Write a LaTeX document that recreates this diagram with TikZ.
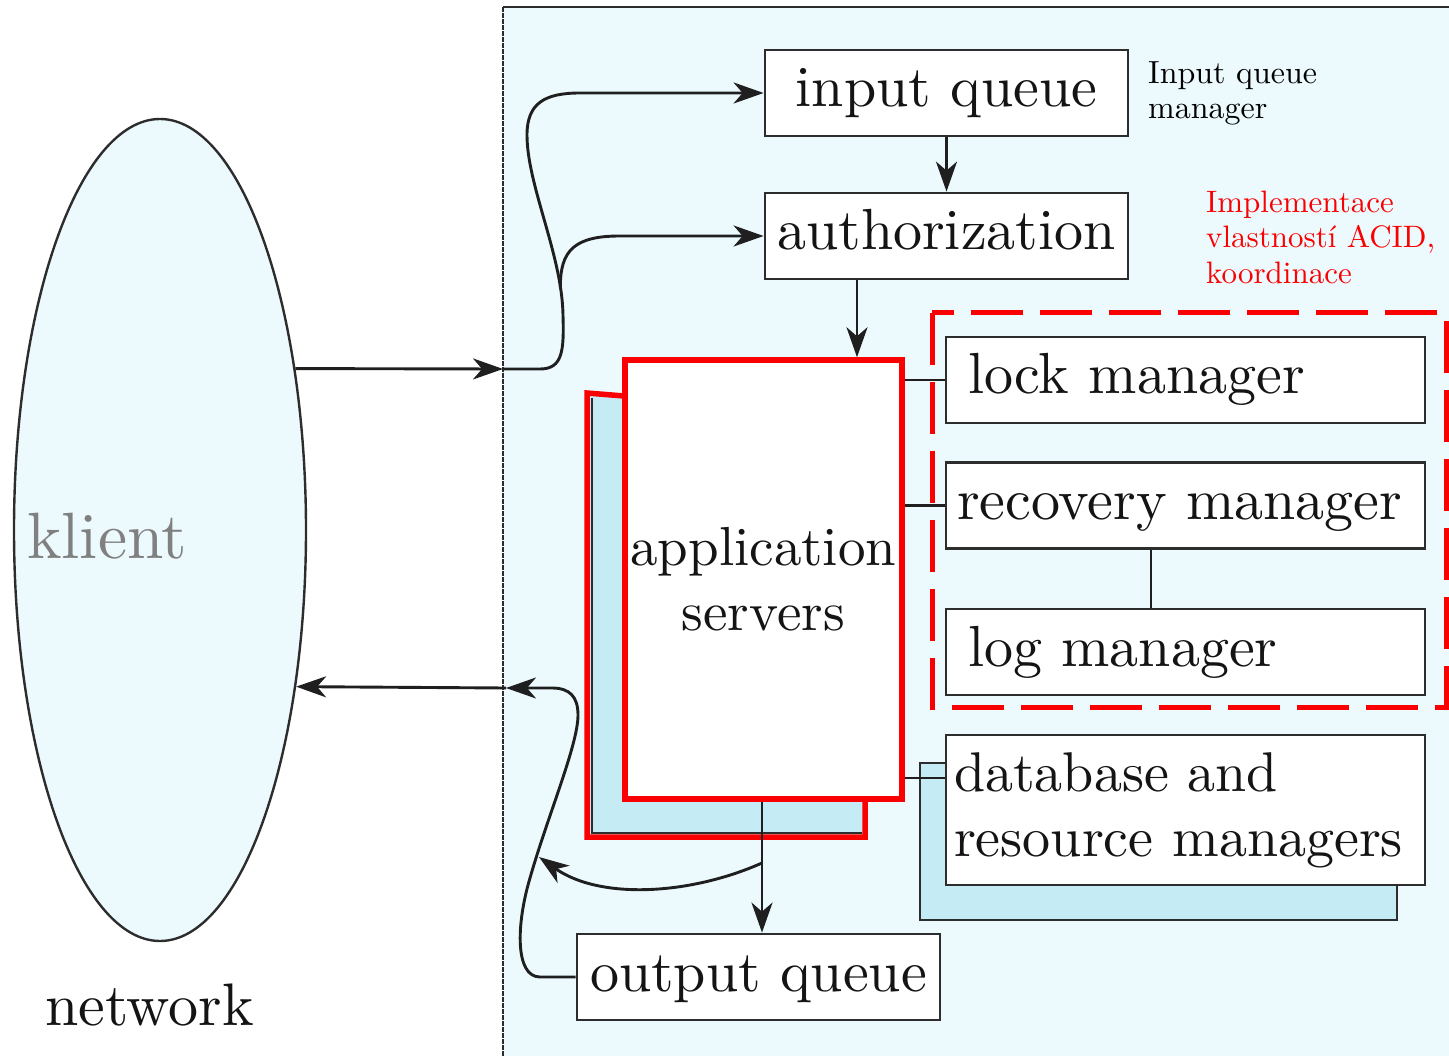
\documentclass[tikz,border=0pt]{standalone}
\usepackage{fontspec}
\setmainfont{lmroman10-regular.otf}
\usetikzlibrary{arrows.meta,shapes.geometric}
\definecolor{srvbg}{RGB}{236,250,254}
\definecolor{blueback}{RGB}{197,236,244}
\definecolor{myred}{RGB}{250,0,0}
\definecolor{boxline}{RGB}{45,45,45}
\definecolor{klientgray}{RGB}{128,128,128}
\pgfdeclarelayer{bg}
\pgfsetlayers{bg,main}
\tikzset{
  box/.style={draw=boxline, line width=2.8pt, fill=white, inner sep=0pt, text=black!92, font=\fontsize{58}{65}\selectfont},
  onebox/.style={box, text height=40pt, text depth=12pt},
  conn/.style={draw=black!88, line width=2.9pt},
  arr/.style={-{Stealth[length=30pt,width=21pt,inset=9pt]}},
  label/.style={inner sep=0pt, anchor=north west, align=left},
}
\begin{document}
\begin{tikzpicture}[x=1pt,y=-1pt]
\useasboundingbox (0,0) rectangle (1449,1056);

% client ellipse
\node[ellipse, draw=boxline, line width=2.4pt, fill=srvbg, minimum width=292pt, minimum height=822pt, inner sep=0pt] (net) at (160,530) {};
\node[inner sep=0pt, anchor=base west, text=klientgray, font=\fontsize{65.5}{70}\selectfont] (kl) at (27,558) {klient};
\node[inner sep=0pt, anchor=base west, text=black!92, font=\fontsize{60}{70}\selectfont] (nw) at (45,1025) {network};

\coordinate (inpt) at (503,369);
\coordinate (outpt) at (506,688);
\coordinate (br) at (762,863);

% boxes
\node[onebox, minimum width=363pt, minimum height=86pt] (iq) at (946.5,93) {input queue};
\node[onebox, minimum width=363pt, minimum height=86pt] (auth) at (946.5,236) {authorization};
\node[box, draw=myred, line width=5.5pt, minimum width=277pt, minimum height=439pt, align=center, font=\fontsize{55}{65}\selectfont] (app) at (763.3,579.5) {application\\servers};
\node[onebox, minimum width=479pt, minimum height=86pt, text width=435pt, align=left, inner xsep=22pt] (lock) at (1185.5,380) {lock manager};
\node[onebox, minimum width=479pt, minimum height=86pt, text width=457pt, align=left, inner xsep=11pt] (rec) at (1185.5,505.5) {recovery manager};
\node[onebox, minimum width=479pt, minimum height=86pt, text width=435pt, align=left, inner xsep=22pt] (log) at (1185.5,652) {log manager};
\node[box, minimum width=479pt, minimum height=150pt, text width=463pt, align=left, inner xsep=8pt, font=\fontsize{56}{65}\selectfont] (db) at (1185.5,810) {database and\\resource managers};
\node[onebox, minimum width=363pt, minimum height=86pt] (oq) at (758.5,977) {output queue};
\coordinate (dbin) at ([yshift=32pt]db.west);

% side texts
\node[label, font=\fontsize{32}{35}\selectfont, text=black] (iqm) at (1148,61) {Input queue\\manager};
\node[label, font=\fontsize{31}{35.5}\selectfont, text=myred] (acid) at (1206,190.5) {Implementace\\vlastností ACID,\\koordinace};

% ACID group
\draw[myred, line width=5pt, dash pattern=on 52pt off 17pt] (932,313) rectangle (1446,707);

\begin{pgfonlayer}{bg}
  \fill[white] (0,0) rectangle (1449,1056);
  % server area
  \fill[srvbg] (503,7) rectangle (1449,1056);
  \draw[boxline, line width=2.8pt] (503,7) -- (1449,7);
  \draw[boxline, line width=2.8pt, dash pattern=on 5pt off 1pt] (503,7) -- (503,1056);
  % back boxes
  \fill[blueback] (587,394) rectangle (865,837);
  \draw[boxline, line width=2.4pt] (592,398) -- (592,833) -- (862,833);
  \draw[myred, line width=5.5pt] (624,396) -- (587,393) -- (587,837) -- (865,837) -- (865,800);
  \filldraw[fill=blueback, draw=boxline, line width=2.8pt] (920,763) rectangle (1397,920);
  % connectors
  \draw[conn,arr] (net.50.2) -- (inpt);
  \draw[conn,arr] (inpt) -- (540,369) .. controls (563,369) and (564,350) .. (563,315)
     .. controls (562,255) and (527,185) .. (527,135)
     .. controls (527,103) and (545,93) .. (580,93) -- (iq.west);
  \draw[conn,arr] (560.4,287.4) .. controls (560,250) and (575,236) .. (620,236) -- (auth.west);
  \draw[conn,arr] (iq.south) -- (auth.north);
  \draw[conn,arr] ([xshift=-89.5pt]auth.south) -- ([xshift=-89.5pt]auth.south |- app.north);
  \draw[conn] (app.east |- lock.west) -- (lock.west);
  \draw[conn] (app.east |- rec.west) -- (rec.west);
  \draw[conn] (app.east |- dbin) -- (dbin);
  \draw[conn] ([xshift=-34.5pt]rec.south) -- ([xshift=-34.5pt]log.north);
  \draw[conn,arr] (app.south -| br) -- (br |- oq.north);
  \draw[conn,arr] (br) .. controls (690,895) and (600,900) .. (539,857);
  \draw[conn,arr] (oq.west) -- (540,977) .. controls (515,977) and (516,925) .. (530,878)
     .. controls (548,815) and (578,745) .. (578,715)
     .. controls (578,697) and (570,688) .. (552,688) -- (outpt);
  \draw[conn,arr] (outpt) -- (net.-49.5);
\end{pgfonlayer}
\end{tikzpicture}
\end{document}
